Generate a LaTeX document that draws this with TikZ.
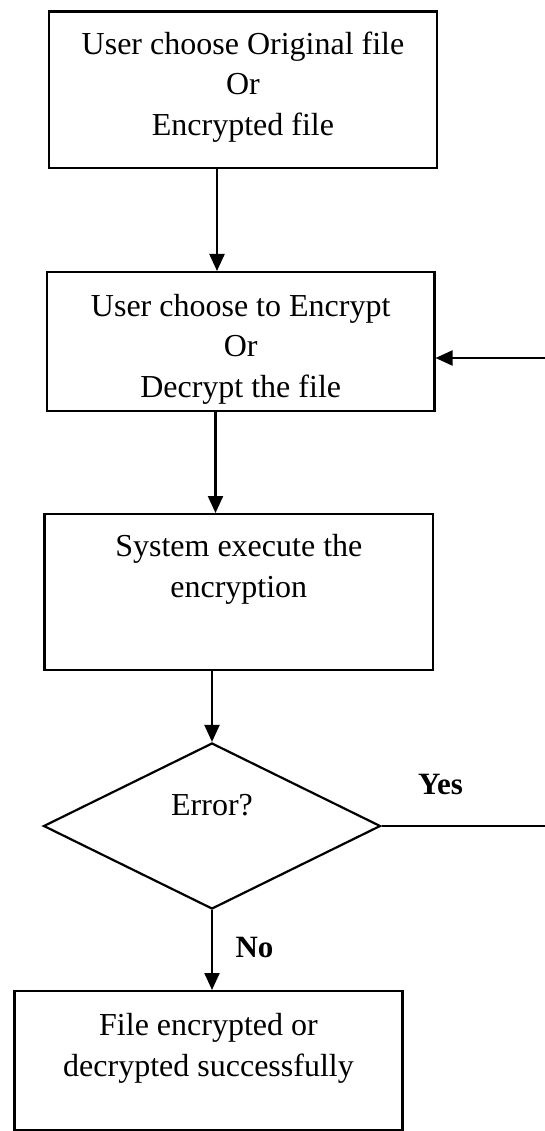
\documentclass[tikz,border=0pt]{standalone}
\usepackage{fontspec}
\setmainfont{Liberation Serif}
\usetikzlibrary{arrows.meta,shapes.geometric}
\begin{document}
\begin{tikzpicture}[x=1pt,y=-1pt,
 box/.style={draw, line width=2.2pt, inner sep=0pt, align=center, anchor=north, font=\fontsize{32}{40.5}\selectfont},
 decision/.style={draw, diamond, line width=2.2pt, inner sep=0pt, font=\fontsize{32}{40.5}\selectfont},
 arr/.style={line width=2.2pt, -{Triangle[length=17pt,width=15pt]}},
 plain/.style={line width=2.2pt},
 lbl/.style={font=\fontsize{31}{37}\selectfont\bfseries, anchor=base, inner sep=0pt}]
\useasboundingbox (0,0) rectangle (545,1131);
\node[box, minimum width=388pt, text height=123.6pt, text depth=33pt] (b1) at (243,10.4) {User choose Original file\\Or\\Encrypted file};
\node[box, minimum width=387.5pt, text height=125pt, text depth=14pt] (b2) at (240.7,271) {User choose to Encrypt\\Or\\Decrypt the file};
\node[box, minimum width=388.5pt, text height=83pt, text depth=73pt] (b3) at (238.8,513) {System execute the\\encryption};
\node[decision, minimum width=337pt, minimum height=166pt, text height=10pt, text depth=32pt] (d) at (212,826) {Error?};
\node[box, minimum width=388pt, text height=85pt, text depth=54pt] (b4) at (208.5,990) {File encrypted or\\decrypted successfully};
\node[lbl] (yes) at (440.5,794.5) {Yes};
\node[lbl] (no) at (254.5,957) {No};
\coordinate (ye) at (545,826);
\coordinate (fb) at (545,358);
\draw[arr] ([xshift=-26pt]b1.south) -- ([xshift=-26pt]b1.south |- b2.north);
\draw[arr] ([xshift=-25.2pt]b2.south) -- ([xshift=-25.2pt]b2.south |- b3.north);
\draw[arr] (b3.south -| d.north) -- (d.north);
\draw[arr] (d.south) -- (d.south |- b4.north);
\draw[plain] (d.east) -- (ye);
\draw[arr] (fb) -- (fb -| b2.east);
\end{tikzpicture}
\end{document}
